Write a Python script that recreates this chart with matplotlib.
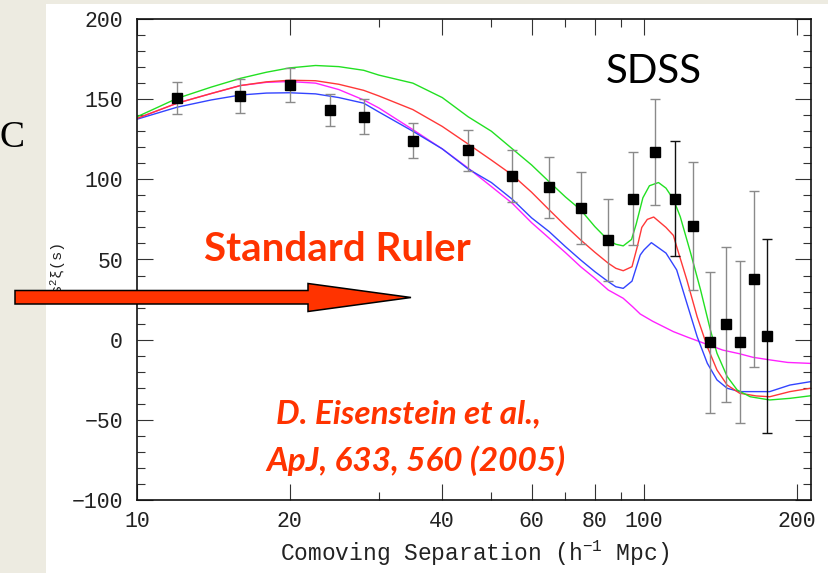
import matplotlib
matplotlib.use("Agg")
import matplotlib.pyplot as plt
from matplotlib.patches import Polygon, Rectangle
from matplotlib.ticker import FixedLocator, NullFormatter, FixedFormatter

plt.rcParams["mathtext.fontset"] = "custom"
plt.rcParams["mathtext.rm"] = "Liberation Mono"
plt.rcParams["mathtext.it"] = "Liberation Mono:italic"

# ---------------- data ----------------
data_x = [12, 16, 20, 24, 28, 35, 45, 55, 65, 75, 85, 95, 105, 115, 125, 135, 145, 155, 165, 175]
data_y = [151, 152, 159, 143, 139, 124, 118, 102, 95, 82, 62, 88, 117, 88, 71, -1.5, 9.5, -1.5, 38, 2]
data_err = [10, 10.5, 10.5, 10, 11, 11, 13, 16, 19, 22.5, 25.5, 29, 33, 36, 40, 44, 48.5, 50.5, 55, 60.5]
err_colors = ["#8a8a8a"] * 13 + ["#111111"] + ["#8a8a8a"] * 5 + ["#111111"]

green_x = [10, 12, 14, 16, 18, 20, 22.5, 25, 28, 30, 35, 40, 45, 50, 55, 60, 65, 70, 75, 80, 85, 88, 91,
           94.5, 96.5, 99.5, 102.5, 106.8, 110.5, 114.3, 117.9, 123.6, 129.3, 135.2, 139.3, 145.9,
           152.7, 162, 177, 194, 213]
green_y = [139, 150.5, 157.5, 163, 166.8, 169.5, 171, 170.3, 168, 165, 160, 151, 139, 130, 119, 109, 98.5,
           89, 81, 70.5, 62, 59.5, 58.5, 62.5, 72, 88.5, 96, 98, 94.5, 87.5, 76.7, 54, 31, 6, -8.5, -23,
           -31.4, -35.6, -37.6, -36.6, -35]

red_x = [10, 12, 14, 16, 18, 20, 22.5, 25, 28, 30, 35, 40, 45, 50, 55, 60, 65, 70, 75, 80, 85, 88, 91, 94.7,
         97, 99, 101.5, 104.5, 110.5, 114.3, 116, 121.5, 127.3, 133.3, 139.3, 145.9, 154.4, 166.5,
         177, 194, 213]
red_y = [138, 147.5, 153.5, 158.5, 160.8, 161.8, 161.5, 159.3, 155.5, 152, 143.5, 133, 122, 112, 102.7,
         92, 81, 71, 62.2, 54.5, 47.7, 44.5, 43, 45.5, 58, 70, 75, 76.5, 70, 65, 58, 37.2, 14.3, -4.4,
         -18.9, -28.3, -33.4, -35.1, -35.6, -32.4, -30.3]

blue_x = [10, 12, 14, 16, 18, 20, 22.5, 25, 28, 30, 35, 40, 45, 50, 55, 60, 65, 70, 75, 80, 85, 88, 91,
          94.7, 98.3, 100, 103.4, 110.5, 116, 121.5, 127.3, 133.3, 139.3, 145.9, 154.4, 177, 194, 213]
blue_y = [137.5, 145, 149.5, 152.6, 153.8, 154, 153.3, 151, 147.5, 142, 130, 119, 106.5, 98, 87.5, 76,
          67.4, 58, 49.7, 42.4, 36.2, 33, 32, 36.5, 52.8, 56, 60.5, 54, 43.5, 22.7, 1.9, -14.7, -25.1,
          -30.3, -32.4, -32.4, -28.3, -26.2]

magenta_x = [10, 12, 14, 16, 18, 20, 22.5, 25, 28, 30, 35, 40, 45, 50, 55, 60, 65, 70, 75, 80, 85, 91,
             95, 98.3, 104, 114.3, 122, 133.3, 143, 154.4, 164, 177, 192, 213]
magenta_y = [138, 147.5, 153.5, 158.5, 160.5, 161, 160, 156, 149.5, 144.5, 131, 119, 107, 95.5, 85, 73,
             63.3, 54.3, 45.5, 38.3, 31, 25.8, 20.5, 16, 11.5, 5, 1.5, -3, -6.5, -8.8, -11, -12.6,
             -14.2, -14.8]

x_major = [10, 20, 40, 60, 80, 100, 200]
x_major_labels = ["10", "20", "40", "60", "80", "100", "200"]
x_minor = [30, 50, 70, 90]
y_major = [-100, -50, 0, 50, 100, 150, 200]
y_minor = list(range(-100, 201, 10))

# ---------------- figure ----------------
W, H = 829, 573
fig = plt.figure(figsize=(W / 100, H / 100), dpi=100)
fig.patch.set_facecolor("#EDEBE1")
fig.patches.append(Rectangle((46 / W, 0), (W - 46) / W, (H - 4) / H, transform=fig.transFigure,
                             facecolor="white", edgecolor="none", zorder=-5))

def fx(px):
    return px / W

def fy(py):
    return 1 - py / H

ax = fig.add_axes([fx(137), fy(500), (811 - 137) / W, (500 - 19) / H])
ax.set_facecolor("none")
ax.set_xscale("log")
ax.set_xlim(10, 213.5)
ax.set_ylim(-100, 200)

lw_curve = 1.0
ax.plot(magenta_x, magenta_y, color="#FF22FF", lw=lw_curve, zorder=2)
ax.plot(blue_x, blue_y, color="#3344FF", lw=lw_curve, zorder=2)
ax.plot(red_x, red_y, color="#FF3838", lw=lw_curve, zorder=2)
ax.plot(green_x, green_y, color="#22E022", lw=lw_curve, zorder=2)

for xv, yv, ev, ec in zip(data_x, data_y, data_err, err_colors):
    ax.errorbar([xv], [yv], yerr=[ev], fmt="none", ecolor=ec, elinewidth=1.0, capsize=3.6,
                capthick=1.0, zorder=3)
ax.plot(data_x, data_y, "s", color="black", markersize=6.8, zorder=4, linestyle="none")

ax.xaxis.set_major_locator(FixedLocator(x_major))
ax.xaxis.set_major_formatter(FixedFormatter(x_major_labels))
ax.xaxis.set_minor_locator(FixedLocator(x_minor))
ax.xaxis.set_minor_formatter(NullFormatter())
ax.yaxis.set_major_locator(FixedLocator(y_major))
ax.yaxis.set_minor_locator(FixedLocator(y_minor))

mono = ["Liberation Mono", "DejaVu Sans Mono"]
ax.tick_params(which="both", direction="in", top=True, right=True, colors="#333333", width=0.8)
ax.tick_params(which="major", length=11.5)
ax.tick_params(which="minor", length=6)
ax.tick_params(axis="y", which="major", pad=10, labelcolor="#222222")
ax.tick_params(axis="x", which="major", pad=8, labelcolor="#222222")
for lab in ax.get_xticklabels() + ax.get_yticklabels():
    lab.set_fontfamily(mono)
    lab.set_fontsize(15.5)

for sp in ax.spines.values():
    sp.set_linewidth(1.2)
    sp.set_color("#111111")

ax.set_xlabel("Comoving Separation (h$^{-1}$ Mpc)", fontfamily=mono, fontsize=16.5,
              color="#222222", va="center")
ax.xaxis.set_label_coords(0.5, (500 - 553) / 481)
ax.set_ylabel("s$^2$ξ(s)", fontfamily=mono, fontsize=11, color="#222222", va="center")
ax.yaxis.set_label_coords((58 - 137) / 674, 0.48)

# ---------------- annotations ----------------
red = "#FF3300"
arrow_pts = [(15, 290.5), (308, 290.5), (308, 283.5), (411, 297.5), (308, 311.5), (308, 304), (15, 304)]
fig.patches.append(Polygon([(fx(a), fy(b)) for a, b in arrow_pts], closed=True,
                           transform=fig.transFigure, facecolor=red, edgecolor="black",
                           linewidth=1.1, zorder=5))

fig.text(fx(654), fy(83), "SDSS", fontfamily="Lato", fontsize=29, color="black",
         ha="center", va="baseline", zorder=6)
fig.text(fx(337.5), fy(261), "Standard Ruler", fontfamily="Lato", fontweight="bold",
         fontsize=29, color=red, ha="center", va="baseline", zorder=6)
fig.text(fx(409), fy(423), "D. Eisenstein et al.,", fontfamily="Lato", fontweight="bold",
         fontstyle="italic", fontsize=24, color=red, ha="center", va="baseline", zorder=6)
fig.text(fx(415.5), fy(471), "ApJ, 633, 560 (2005)", fontfamily="Lato", fontweight="bold",
         fontstyle="italic", fontsize=24, color=red, ha="center", va="baseline", zorder=6)
fig.text(fx(-1), fy(147), "C", fontfamily="Liberation Serif", fontsize=27, color="black",
         ha="left", va="baseline", zorder=6)

fig.savefig("out.png", dpi=100, facecolor=fig.get_facecolor())
